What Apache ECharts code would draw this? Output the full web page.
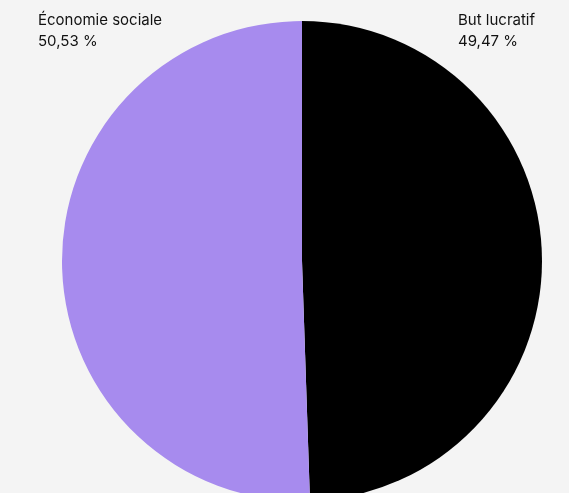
<!DOCTYPE html>
<html><head><meta charset="utf-8">
<script src="https://cdn.jsdelivr.net/npm/echarts@6/dist/echarts.min.js"></script>
<style>html,body{margin:0;padding:0;background:#f4f4f4;}#c{width:569px;height:493px;}</style>
</head><body><div id="c"></div>
<script>
const categories = ["But lucratif", "Économie sociale"];
const values = [49.47, 50.53];
const valueLabels = ["49,47 %", "50,53 %"];
const colors = ["#000000", "#a78bee"];

const chart = echarts.init(document.getElementById('c'), null, {renderer: 'canvas'});
const labelPos = [{left: 458, top: 10}, {left: 38, top: 10}];
chart.setOption({
  backgroundColor: '#f4f4f4',
  animation: false,
  series: [{
    type: 'pie',
    center: [302, 261],
    radius: [0, 240],
    startAngle: 90,
    clockwise: true,
    label: {show: false},
    labelLine: {show: false},
    emphasis: {disabled: true},
    data: categories.map((c, i) => ({name: c, value: values[i], itemStyle: {color: colors[i]}}))
  }],
  graphic: categories.map((c, i) => ({
    type: 'text',
    left: labelPos[i].left,
    top: labelPos[i].top,
    style: {
      text: c + '\n' + valueLabels[i],
      fill: '#111111',
      font: '15px Inter, sans-serif',
      lineHeight: 21
    }
  }))
});
</script></body></html>
